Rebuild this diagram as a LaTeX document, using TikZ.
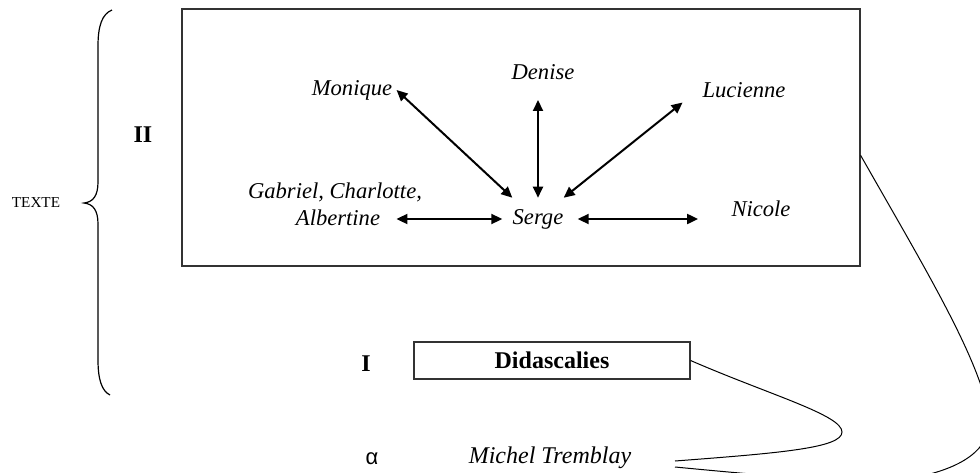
\documentclass[tikz,border=0pt]{standalone}
\usepackage{fontspec}
\setmainfont{Liberation Serif}
\newfontfamily\alphafont{Liberation Sans}
\usetikzlibrary{arrows.meta}

\tikzset{
  perso/.style={font=\fontsize{11.3}{13}\selectfont\itshape, inner sep=2pt},
  niveau/.style={font=\fontsize{12}{14}\selectfont\bfseries},
  cadre/.style={draw=black!80, line width=0.6pt},
  rel/.style={{Triangle[length=5.5pt,width=5pt]}-{Triangle[length=5.5pt,width=5pt]}, line width=1pt},
  lien/.style={line width=0.5pt}
}

\begin{document}
\begin{tikzpicture}[x=0.5pt,y=-0.5pt]
	\useasboundingbox (0,0) rectangle (980,472);
	\clip (0,0) rectangle (980,472);
	% accolade
	\node[font=\fontsize{7.6}{9}\selectfont] (texte) at (36,203) {TEXTE};
	\draw[line width=0.6pt] (112,10) .. controls (102,14) and (98,26) .. (98,46) -- (98,182) .. controls (98,196) and (93,202) .. (84,203) .. controls (93,204) and (98,210) .. (98,224) -- (98,360) .. controls (98,380) and (102,391) .. (110,395);
	% niveau II
	\node[cadre, minimum width=339pt, minimum height=128.5pt] (scene) at (521,137.5) {};
	\node[niveau] (deux) at (143,135) {II};
	\node[perso] (monique) at (352,90) {Monique};
	\node[perso] (denise) at (543,72) {Denise};
	\node[perso] (lucienne) at (744,90) {Lucienne};
	\node[perso] (gabriel) at (335,192) {Gabriel, Charlotte,};
	\node[perso] (albertine) at (338,218) {Albertine};
	\node[perso, inner xsep=0pt, inner ysep=5.5pt] (serge) at (538,219) {Serge};
	\node[perso] (nicole) at (761,209) {Nicole};
	\draw[rel] (monique.east) -- (serge.north west);
	\draw[rel, shorten >=8pt] (serge.north) -- (serge.north |- denise.south);
	\draw[rel, shorten >=10pt] (serge.north east) -- (lucienne.west);
	\draw[rel, shorten <=6pt, shorten >=5pt] (albertine.east |- serge.west) -- (serge.west);
	\draw[rel, shorten <=7pt, shorten >=14.5pt] (serge.east) -- (serge.east -| nicole.west);
	% niveau I
	\node[niveau] (un) at (366,364) {I};
	\node[cadre, niveau, minimum width=138pt, minimum height=18.5pt] (didas) at (552,360.5) {Didascalies};
	% niveau alpha
	\node[font=\fontsize{11}{13}\selectfont\alphafont] (alpha) at (372,459) {α};
	\node[font=\fontsize{12}{14}\selectfont\itshape] (tremblay) at (550,458) {Michel Tremblay};
	\coordinate (eqhaut) at (675,461);
	\coordinate (eqbas) at (675,467);
	\draw[lien] (didas.east) .. controls (770,395) and (842,415) .. (842,432) .. controls (842,448) and (780,453) .. (eqhaut);
	\draw[lien] (scene.-3.3) .. controls (920,260) and (975,350) .. (988,410) .. controls (995,440) and (975,462) .. (930,474) .. controls (880,486) and (790,478) .. (eqbas);
\end{tikzpicture}
\end{document}
